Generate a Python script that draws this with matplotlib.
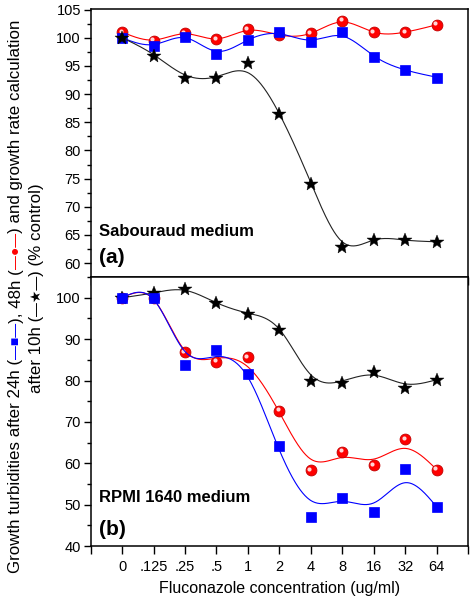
import numpy as np
import matplotlib
matplotlib.use("Agg")
import matplotlib.pyplot as plt
from matplotlib.ticker import MultipleLocator
import matplotlib.transforms as mtransforms

plt.rcParams['font.family'] = ['Liberation Sans', 'DejaVu Sans']

# ---------------- data ----------------
conc_labels = ['0', '.125', '.25', '.5', '1', '2', '4', '8', '16', '32', '64']

# (a) Sabouraud medium - measured points
sab_48h = [101.0, 99.5, 100.8, 99.7, 101.5, 100.4, 100.8, 103.0, 101.0, 101.0, 102.3]
sab_24h = [100.0, 98.5, 100.1, 97.2, 99.6, 101.1, 99.3, 101.0, 96.6, 94.2, 92.9]
sab_10h = [100.0, 96.7, 92.9, 92.9, 95.6, 86.4, 74.1, 62.8, 64.1, 64.2, 63.8]
# (a) fitted curve values at each concentration
sab_48h_fit = [101.0, 99.6, 100.7, 99.8, 101.3, 100.5, 100.8, 102.8, 101.0, 101.0, 102.3]
sab_24h_fit = [100.0, 98.8, 100.0, 97.6, 99.6, 100.7, 99.6, 100.3, 96.8, 94.3, 93.0]
sab_10h_fit = [100.0, 97.0, 93.4, 93.1, 93.8, 86.5, 74.3, 63.8, 64.1, 64.1, 63.8]

# (b) RPMI 1640 medium - measured points
rpmi_48h = [100.0, 100.0, 86.8, 84.5, 85.6, 72.7, 58.3, 62.8, 59.5, 65.8, 58.4]
rpmi_24h = [100.0, 100.0, 83.7, 87.3, 81.5, 64.2, 47.0, 51.6, 48.2, 58.6, 49.4]
rpmi_10h = [100.0, 101.1, 102.2, 98.8, 96.2, 92.3, 80.0, 79.5, 82.1, 78.3, 80.2]
# (b) fitted curve values
rpmi_48h_fit = [100.0, 99.6, 87.2, 85.4, 83.3, 72.3, 61.0, 61.4, 61.0, 63.6, 58.5]
rpmi_24h_fit = [100.0, 99.6, 87.0, 85.8, 80.8, 63.2, 51.0, 50.8, 50.4, 55.3, 49.5]
rpmi_10h_fit = [100.0, 101.2, 101.8, 98.8, 96.3, 92.4, 81.4, 79.9, 81.3, 79.2, 80.2]


def natural_spline(y, n_out=400):
    y = np.asarray(y, float)
    n = len(y)
    A = np.zeros((n, n))
    b = np.zeros(n)
    A[0, 0] = 1
    A[-1, -1] = 1
    for i in range(1, n - 1):
        A[i, i - 1] = 1
        A[i, i] = 4
        A[i, i + 1] = 1
        b[i] = 6 * (y[i + 1] - 2 * y[i] + y[i - 1])
    M = np.linalg.solve(A, b)
    xs = np.linspace(0, n - 1, n_out)
    idx = np.clip(np.floor(xs).astype(int), 0, n - 2)
    t = xs - idx
    ys = ((1 - t) * y[idx] + t * y[idx + 1]
          + ((1 - t) ** 3 - (1 - t)) * M[idx] / 6
          + (t ** 3 - t) * M[idx + 1] / 6)
    return xs, ys


W, H = 474, 611
fig = plt.figure(figsize=(W / 100, H / 100), dpi=100)
L = 90.7 / W
Wd = (468 - 90.7) / W
mid = 1 - 276.7 / H
ax1 = fig.add_axes([L, mid, Wd, (1 - 9 / H) - mid])
ax2 = fig.add_axes([L, 1 - 546 / H, Wd, mid - (1 - 546 / H)])

x = np.arange(len(conc_labels))
RED = '#ff0000'
BLUE = '#0000ff'


def draw_series(ax, pts, fit, kind, z):
    xs, ys = natural_spline(fit)
    if kind == 'red':
        ax.plot(xs, ys, color=RED, lw=0.8, zorder=z)
        ax.plot(x, pts, 'o', ms=7.8, mfc=RED, mec='#c00000', mew=0.6, zorder=z + 0.1)
        hl = mtransforms.offset_copy(ax.transData, fig=fig, x=-1.1, y=1.1, units='points')
        ax.plot(x, pts, 'o', ms=3.0, mfc='#ffd6d6', mec='none', transform=hl, zorder=z + 0.2)
    elif kind == 'blue':
        ax.plot(xs, ys, color=BLUE, lw=0.8, zorder=z)
        ax.plot(x, pts, 's', ms=6.8, mfc=BLUE, mec=BLUE, mew=0.5, zorder=z + 0.1)
    else:
        ax.plot(xs, ys, color='#222222', lw=0.8, zorder=z)
        ax.plot(x, pts, '*', ms=10.5, mfc='black', mec='black', mew=0.3, zorder=z + 0.1)


draw_series(ax1, sab_48h, sab_48h_fit, 'red', 3)
draw_series(ax1, sab_24h, sab_24h_fit, 'blue', 4)
draw_series(ax1, sab_10h, sab_10h_fit, 'black', 5)

draw_series(ax2, rpmi_48h, rpmi_48h_fit, 'red', 3)
draw_series(ax2, rpmi_10h, rpmi_10h_fit, 'black', 4)
draw_series(ax2, rpmi_24h, rpmi_24h_fit, 'blue', 5)

for ax in (ax1, ax2):
    ax.set_xlim(-1, 11)
    ax.set_xticks(np.arange(-1, 12))
    ax.tick_params(axis='both', direction='out', labelsize=10.5, width=1.0, pad=2)
    ax.tick_params(axis='x', length=6)
    ax.tick_params(axis='y', which='major', length=5)
    ax.tick_params(axis='y', which='minor', length=3, width=1.0)
    for s in ax.spines.values():
        s.set_linewidth(1.1)

ax1.set_xticklabels([])
ax2.set_xticklabels([''] + conc_labels + [''])
ax2.tick_params(axis='x', pad=4)

ax1.set_ylim(57.6, 105.1)
ax1.yaxis.set_major_locator(MultipleLocator(5))
ax1.yaxis.set_minor_locator(MultipleLocator(2.5))
ax1.set_yticks(np.arange(60, 106, 5))

ax2.set_ylim(40, 105.1)
ax2.yaxis.set_major_locator(MultipleLocator(10))
ax2.yaxis.set_minor_locator(MultipleLocator(5))
ax2.set_yticks(np.arange(40, 101, 10))

ax1.text(0.022, 0.167, 'Sabouraud medium', transform=ax1.transAxes, fontsize=12,
         fontweight='bold', va='center', ha='left')
ax1.text(0.022, 0.07, '(a)', transform=ax1.transAxes, fontsize=15,
         fontweight='bold', va='center', ha='left')
ax2.text(0.022, 0.179, 'RPMI 1640 medium', transform=ax2.transAxes, fontsize=12,
         fontweight='bold', va='center', ha='left')
ax2.text(0.022, 0.063, '(b)', transform=ax2.transAxes, fontsize=15,
         fontweight='bold', va='center', ha='left')

fig.text((90.7 + 468) / 2 / W, 1 - 588 / H, 'Fluconazole concentration (ug/ml)',
         ha='center', va='center', fontsize=11.5)

# ---- y label composed of colored pieces ----
fam = ['Liberation Sans', 'DejaVu Sans']
FS_T = 12.2
FS_S = 10.0
line1 = [("Growth turbidities after 24h (", 'black', FS_T), ("—■—", BLUE, FS_S),
         ("), 48h (", 'black', FS_T), ("—●—", RED, FS_S),
         (") and growth rate calculation", 'black', FS_T)]
line2 = [("after 10h (", 'black', FS_T), ("—★—", 'black', FS_S),
         (") (% control)", 'black', FS_T)]

renderer = fig.canvas.get_renderer()


def place(pieces, xpix, ycen_pix):
    texts = [fig.text(0, 0, s, color=c, rotation=90, ha='center', va='bottom',
                      fontsize=fs, family=fam, transform=None) for s, c, fs in pieces]
    lens = [t.get_window_extent(renderer).height for t in texts]
    y = ycen_pix - sum(lens) / 2
    for t, ln in zip(texts, lens):
        t.set_position((xpix, y))
        y += ln


place(line1, 16, H - 296.5)
place(line2, 37, H - 288)

fig.savefig('out.png', dpi=100)
